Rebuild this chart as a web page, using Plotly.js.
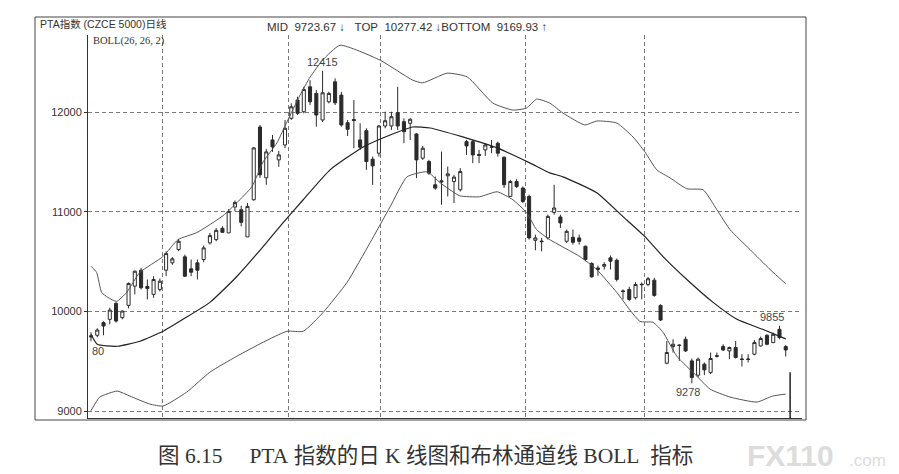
<!DOCTYPE html>
<html>
<head>
<meta charset="utf-8">
<script src="https://cdn.plot.ly/plotly-3.0.1.min.js"></script>
<style>
html,body{margin:0;padding:0;background:#fff;}
#chart{width:899px;height:474px;}
</style>
</head>
<body>
<div id="chart"></div>
<script>
// ---- Candles (daily K lines), index 0..111 ----
const openP = [9755,9760,9887,9920,10080,9937,10060,10253,10413,10250,10170,10220,10413,10487,10620,10547,10427,10487,10520,10687,
  10720,10833,10787,11047,11020,10747,11120,11850,11340,11720,11520,11670,11937,12120,12003,12253,12187,11920,12103,12303,
  12170,11893,11925,11720,11813,11527,11587,11860,11860,11993,11903,11887,11780,11537,11503,11270,11310,11360,11303,11220,
  11703,11703,11575,11620,11650,11687,11547,11153,11303,11237,11153,10713,10705,10737,10993,10947,10703,10743,10737,10653,
  10480,10420,10453,10537,10513,10205,10220,10137,10272,10270,10313,10060,9480,9647,9662,9720,9503,9360,9470,9387,
  9555,9647,9603,9637,9522,9522,9570,9653,9760,9687,9820,9647];
const highP = [9790,9830,9900,10037,10093,10010,10290,10410,10437,10320,10353,10330,10603,10545,10727,10570,10520,10520,10660,10787,
  10837,10853,11027,11113,11060,11087,11650,11870,11630,11770,11610,11920,12087,12153,12253,12320,12220,12415,12203,12337,
  12203,11920,12120,11887,11837,11553,11870,12003,12003,12253,11937,11937,11787,11660,11520,11353,11603,11453,11370,11437,
  11720,11720,11620,11687,11720,11703,11553,11320,11327,11253,11170,10770,10737,10970,11270,10970,10820,10820,10770,10660,
  10493,10460,10493,10560,10530,10220,10247,10293,10290,10347,10337,10070,9703,9720,9670,9747,9527,9537,9487,9587,
  9587,9670,9647,9703,9570,9570,9713,9747,9770,9787,9855,9660];
const lowP = [9700,9740,9760,9870,9887,9920,10030,10170,10220,10120,10137,10200,10353,10467,10603,10347,10353,10320,10493,10670,
  10703,10787,10787,11003,10853,10747,11110,11340,11270,11600,11450,11637,11920,11970,11987,12070,11853,11900,12087,12070,
  11853,11760,11637,11620,11420,11270,11553,11837,11820,11820,11687,11720,11337,11520,11370,11220,11070,11153,11087,11203,
  11570,11487,11487,11560,11587,11553,11237,11147,11237,11087,10720,10613,10603,10720,10970,10837,10687,10670,10670,10503,
  10337,10357,10420,10420,10300,10120,10103,10120,10120,10253,10147,9903,9470,9587,9503,9593,9278,9337,9360,9370,
  9537,9603,9520,9527,9447,9487,9560,9647,9660,9680,9720,9547];
const closeP = [9745,9813,9853,10013,9903,10003,10280,10403,10237,10230,10320,10303,10580,10527,10703,10353,10393,10413,10637,10760,
  10813,10793,11003,11093,10893,11053,11640,11370,11600,11650,11570,11837,12053,11987,12227,12103,11970,12193,12187,12093,
  11870,11827,11915,11647,11503,11460,11860,11913,11953,11860,11803,11927,11520,11637,11387,11237,11300,11380,11347,11403,
  11660,11570,11565,11670,11645,11587,11270,11303,11253,11103,10737,10737,10700,10953,11037,10887,10803,10693,10703,10520,
  10347,10435,10470,10503,10320,10200,10120,10270,10268,10327,10160,9913,9587,9670,9658,9603,9337,9520,9413,9527,
  9550,9613,9637,9537,9518,9518,9687,9727,9670,9770,9737,9613];

// ---- BOLL(26,26,2) bands (x in candle index units) ----
const upperX = [0,0.9,1.7,2.7,4.1,5.7,7.8,11.5,13.9,16.9,21.1,23.3,25.7,27.5,29.7,31.3,33.4,35,37,39.8,46.2,51.4,53,56.9,60.1,64.2,67.4,69.6,71.2,73.3,75.4,78.9,80.8,84,86.6,88.5,90.4,92.5,95.2,97.8,100,102.1,105.3,108.5,111];
const upperV = [10453,10390,10190,10140,10100,10190,10390,10550,10720,10790,10960,11090,11250,11500,11690,11900,12170,12350,12520,12670,12520,12320,12293,12390,12353,12090,12020,12040,12130,12090,11990,11870,11910,11890,11750,11600,11420,11340,11230,11220,11020,10820,10620,10420,10277];
const midX = [0,1,4.2,7.8,11.5,14.7,19,23.3,27.5,30.7,33.9,38.2,43.5,47.8,51.4,54.2,59.4,64.9,70.1,73.3,75.4,80.8,85,88.5,91.4,95.2,99.4,103.2,107.3,111];
const midV = [9770,9670,9650,9700,9800,9920,10090,10350,10650,10890,11120,11420,11650,11770,11850,11840,11750,11640,11490,11390,11350,11190,10950,10750,10550,10320,10090,9920,9820,9724];
const lowerX = [0,1.4,4.2,6.2,9.4,11.5,15.3,19,23.3,27.5,31.3,33.9,37.1,40.9,44.6,47.8,50.5,53.7,55.8,58.9,62.1,64.9,67.4,69.6,71.2,73.3,78.1,80.8,84,87.7,89.8,91.4,93.6,96.8,98.9,102.1,106.4,108.9,111];
const lowerV = [9003,9140,9200,9150,9070,9050,9190,9390,9550,9690,9800,9800,9990,10290,10690,11050,11350,11400,11290,11160,11150,11200,11120,10990,10820,10720,10550,10420,10190,9900,9890,9790,9550,9350,9220,9140,9090,9150,9170];

// ---- axis ticks ----
const yTicks = [9000,10000,11000,12000];
const yTickText = ['9000','10000','11000','12000'];
const monthBreaks = [11.5,31.5,46.2,69.5,88.5];

// ---- texts ----
const headerLeft = 'PTA指数 (CZCE 5000)日线';
const headerRight = 'MID&nbsp;&nbsp;9723.67 ↓&nbsp;&nbsp;&nbsp;TOP&nbsp;&nbsp;10277.42 ↓BOTTOM&nbsp;&nbsp;9169.93 ↑';
const indicatorName = 'BOLL(26, 26, 2)';
const caption = '图&nbsp;6.15&nbsp;&nbsp;&nbsp;&nbsp;&nbsp;PTA&nbsp;指数的日&nbsp;K&nbsp;线图和布林通道线&nbsp;BOLL&nbsp;&nbsp;指标';
const markHigh = {i:37, v:12415, t:'12415'};
const markRecent = {i:110, v:9855, t:'9855'};
const markLow = {i:96, v:9278, t:'9278'};
const markStart = {i:0, v:9700, t:'80'};
const cursorLine = {i:111.7, top:9390};

const idx = openP.map((_, k) => k);
const ink = '#2b2b2b';

const traces = [
  {type:'scatter', mode:'lines', x:upperX, y:upperV, line:{color:'#555', width:1, shape:'spline', smoothing:0.5}, hoverinfo:'skip', showlegend:false},
  {type:'scatter', mode:'lines', x:lowerX, y:lowerV, line:{color:'#555', width:1, shape:'spline', smoothing:0.5}, hoverinfo:'skip', showlegend:false},
  {type:'scatter', mode:'lines', x:midX, y:midV, line:{color:'#222', width:1.2, shape:'spline', smoothing:0.5}, hoverinfo:'skip', showlegend:false},
  {type:'candlestick', x:idx, open:openP, high:highP, low:lowP, close:closeP,
   increasing:{line:{color:ink, width:1}, fillcolor:'#ffffff'},
   decreasing:{line:{color:ink, width:1}, fillcolor:ink},
   whiskerwidth:0, hoverinfo:'skip', showlegend:false}
];

const L = 88, R = 802, T = 35, B = 418;
const px = p => (p - L) / (R - L);
const py = p => (B - p) / (B - T);
const labelFont = {family:'Liberation Sans, Arial, sans-serif', size:11, color:'#444'};

const layout = {
  width:899, height:474,
  margin:{l:L, r:899-R, t:T, b:474-B, pad:0},
  paper_bgcolor:'#ffffff', plot_bgcolor:'#ffffff',
  showlegend:false,
  xaxis:{range:[-0.48,113.6], tickvals:monthBreaks, showticklabels:false, ticks:'',
         showgrid:true, gridcolor:'#7a7a7a', griddash:'4px,3px', gridwidth:1,
         zeroline:false, showline:true, linecolor:'#333', linewidth:1,
         rangeslider:{visible:false}, fixedrange:true},
  yaxis:{range:[8930,12773], tickvals:yTicks, ticktext:yTickText, ticks:'outside', ticklen:3, tickcolor:'#333',
         tickfont:{family:'Liberation Sans, Arial, sans-serif', size:11, color:'#333'},
         showgrid:true, gridcolor:'#7a7a7a', griddash:'4px,3px', gridwidth:1,
         zeroline:false, showline:true, linecolor:'#333', linewidth:1, fixedrange:true},
  shapes:[
    {type:'rect', xref:'paper', yref:'paper', x0:px(35), x1:px(806), y0:py(420), y1:py(17), line:{color:'#444', width:1}, fillcolor:'rgba(0,0,0,0)'},
    {type:'line', xref:'x', yref:'y', x0:cursorLine.i, x1:cursorLine.i, y0:8930, y1:cursorLine.top, line:{color:'#222', width:1.5}}
  ],
  annotations:[
    {xref:'paper', yref:'paper', x:px(38), y:py(24), xanchor:'left', yanchor:'middle', showarrow:false, text:headerLeft,
     font:{family:'Liberation Sans, Noto Sans CJK SC, sans-serif', size:10.5, color:'#333'}},
    {xref:'paper', yref:'paper', x:px(265), y:py(27), xanchor:'left', yanchor:'middle', showarrow:false, text:headerRight,
     font:{family:'Liberation Sans, Arial, sans-serif', size:11.5, color:'#333'}},
    {xref:'paper', yref:'paper', x:px(91), y:py(41), xanchor:'left', yanchor:'middle', showarrow:false, text:indicatorName,
     font:{family:'Liberation Serif, serif', size:10.5, color:'#333'}},
    {xref:'x', yref:'y', x:markHigh.i, y:markHigh.v, xanchor:'center', yanchor:'bottom', yshift:1, showarrow:false, text:markHigh.t, font:labelFont},
    {xref:'x', yref:'y', x:markRecent.i, y:markRecent.v, xanchor:'center', yanchor:'bottom', xshift:-7, yshift:1, showarrow:false, text:markRecent.t, font:labelFont},
    {xref:'x', yref:'y', x:markLow.i, y:markLow.v, xanchor:'center', yanchor:'top', xshift:-4, yshift:-1, showarrow:false, text:markLow.t, font:labelFont},
    {xref:'x', yref:'y', x:markStart.i, y:markStart.v, xanchor:'left', yanchor:'top', xshift:-1, yshift:-2, showarrow:false, text:markStart.t, font:labelFont},
    {xref:'paper', yref:'paper', x:px(425), y:py(456), xanchor:'center', yanchor:'middle', showarrow:false, text:caption,
     font:{family:'Liberation Serif, Noto Sans CJK SC, serif', size:21.5, color:'#333'}},
    {xref:'paper', yref:'paper', x:px(745), y:py(455), xanchor:'left', yanchor:'middle', showarrow:false, text:'<b>FX110</b>',
     font:{family:'Liberation Sans, Arial, sans-serif', size:30, color:'#dcdcdc'}},
    {xref:'paper', yref:'paper', x:px(847), y:py(460), xanchor:'left', yanchor:'middle', showarrow:false, text:'.com',
     font:{family:'Liberation Sans, Arial, sans-serif', size:17, color:'#dcdcdc'}}
  ]
};

Plotly.newPlot('chart', traces, layout, {displayModeBar:false, staticPlot:true});
</script>
</body>
</html>
